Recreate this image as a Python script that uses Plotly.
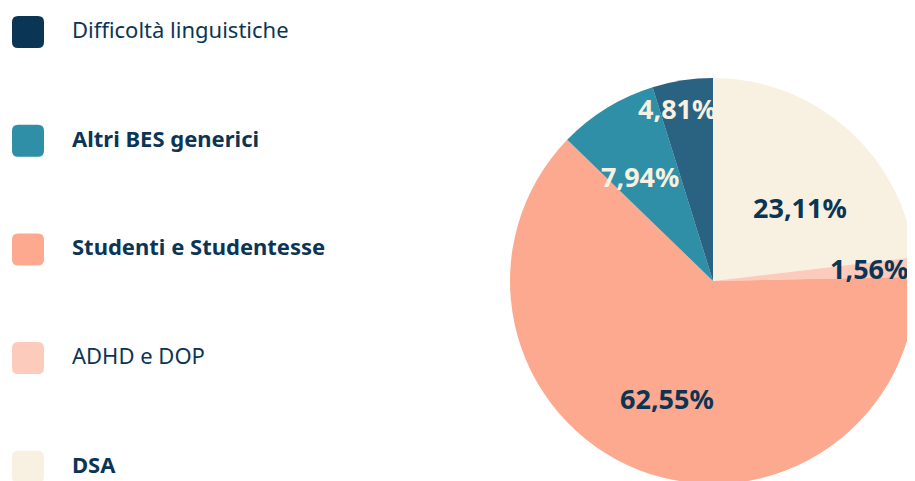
import math
import plotly.graph_objects as go

# slices, clockwise from 12 o'clock
labels = ["DSA", "ADHD e DOP", "Studenti e Studentesse", "Altri BES generici", "Difficoltà linguistiche"]
values = [23.11, 1.56, 62.55, 7.94, 4.81]
slice_colors = ["#F8F1E1", "#FDCBBC", "#FCA98F", "#2E8FA6", "#2A6282"]
text_colors = ["#0B3554", "#0B3554", "#0B3554", "#F8F1E1", "#F8F1E1"]
# where each % label sits inside its slice: share of the radius, share of the slice angle
label_radius = [0.56, 0.77, 0.62, 0.63, 0.87]
label_turn = [0.60, 0.40, 0.50, 0.38, 0.32]

# legend, top to bottom
legend_labels = ["Difficoltà linguistiche", "Altri BES generici", "Studenti e Studentesse", "ADHD e DOP", "DSA"]
legend_colors = ["#0B3554", "#2E8FA6", "#FCA98F", "#FDCBBC", "#F8F1E1"]
legend_bold = [False, True, True, False, True]

# the page body adds 8px, so the figure is a bit smaller than the window
W, H = 910, 476
FONT = "Noto Sans"
NAVY = "#0B3554"

# pie geometry in pixels from top-left of the figure
CX, CY, R = 705, 273, 203

fig = go.Figure()

fig.add_trace(go.Pie(
    labels=labels, values=values, sort=False, direction="clockwise", rotation=0,
    marker=dict(colors=slice_colors, line=dict(width=0)),
    textinfo="none",
    hoverinfo="label+value",
    domain=dict(x=[(CX - R) / W, (CX + R) / W], y=[1 - (CY + R) / H, 1 - (CY - R) / H]),
    showlegend=False,
))

# percentage labels, placed inside each slice
total = sum(values)
cum = 0
for v, col, rf, tf in zip(values, text_colors, label_radius, label_turn):
    ang = (cum + v * tf) / total * 2 * math.pi
    cum += v
    px = CX + rf * R * math.sin(ang)
    py = CY - rf * R * math.cos(ang)
    fig.add_annotation(xref="paper", yref="paper", x=px / W, y=1 - py / H,
                       xanchor="center", yanchor="middle", showarrow=False,
                       text=f"<b>{v:.2f}%</b>".replace(".", ","),
                       font=dict(family=FONT, size=27, color=col))

# legend drawn by hand: big rounded squares with generous spacing
def rounded_rect(x0, y0, x1, y1, rx, ry):
    return (f"M{x0 + rx},{y0} L{x1 - rx},{y0} Q{x1},{y0} {x1},{y0 + ry} "
            f"L{x1},{y1 - ry} Q{x1},{y1} {x1 - rx},{y1} L{x0 + rx},{y1} "
            f"Q{x0},{y1} {x0},{y1 - ry} L{x0},{y0 + ry} Q{x0},{y0} {x0 + rx},{y0} Z")

step = 108.7
for i, (lab, col, bold) in enumerate(zip(legend_labels, legend_colors, legend_bold)):
    cy = 24 + i * step
    fig.add_shape(type="path", xref="paper", yref="paper",
                  path=rounded_rect(4 / W, 1 - (cy + 16) / H, 36 / W, 1 - (cy - 16) / H, 6 / W, 6 / H),
                  line=dict(width=0), fillcolor=col)
    fig.add_annotation(xref="paper", yref="paper", x=62 / W, y=1 - (cy - 3) / H,
                       xanchor="left", yanchor="middle", showarrow=False,
                       text=f"<b>{lab}</b>" if bold else lab,
                       font=dict(family=FONT, size=22, color=NAVY))

fig.update_layout(
    width=W, height=H,
    margin=dict(l=0, r=0, t=0, b=0),
    paper_bgcolor="white", plot_bgcolor="white",
    font=dict(family=FONT, color=NAVY),
)

fig.write_html("out.html")
